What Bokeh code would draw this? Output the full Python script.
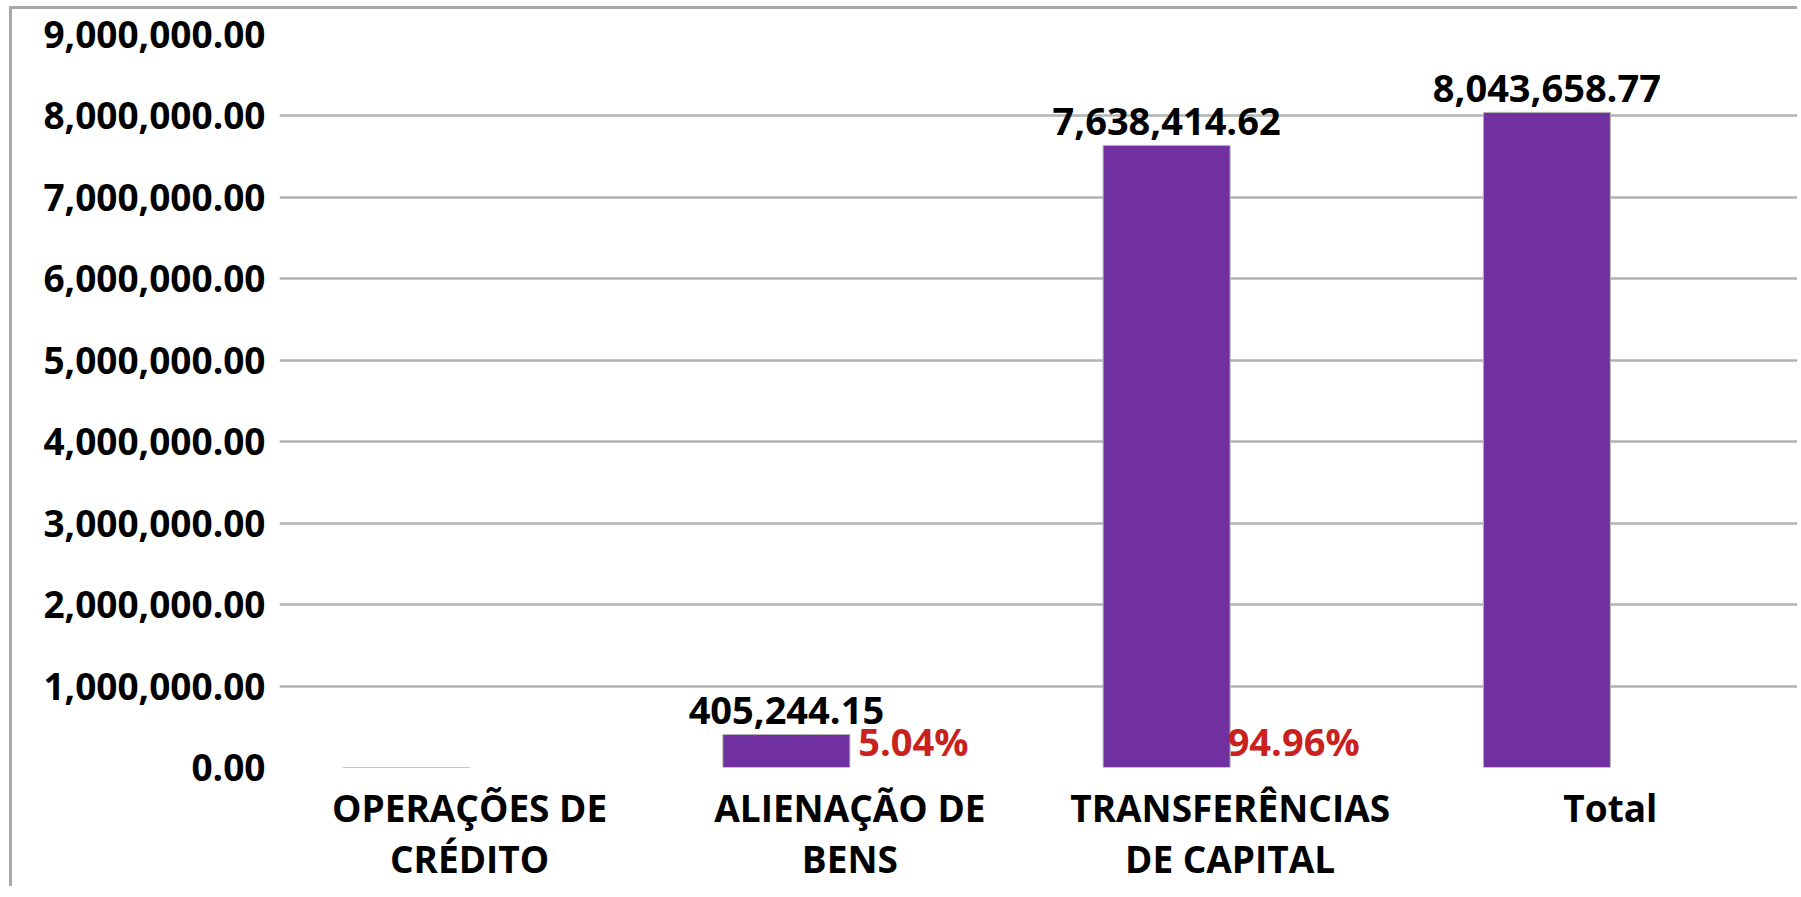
from bokeh.plotting import figure
from bokeh.models import ColumnDataSource, NumeralTickFormatter, FixedTicker, FactorRange, Range1d
from bokeh.transform import dodge
from bokeh.core.properties import value
from bokeh.embed import file_html
from bokeh.resources import INLINE

# ---- data ----
categories = ["OPERAÇÕES DE\nCRÉDITO", "ALIENAÇÃO DE\nBENS", "TRANSFERÊNCIAS\nDE CAPITAL", "Total"]
amounts = [0.0, 405244.15, 7638414.62, 8043658.77]
amount_labels = ["", "405,244.15", "7,638,414.62", "8,043,658.77"]
percent_labels = ["", "5.04%", "94.96%", ""]
y_ticks = [0, 1000000, 2000000, 3000000, 4000000, 5000000, 6000000, 7000000, 8000000, 9000000]

FONT = "Open Sans"
BAR = "#7030a0"
RED = "#c9211e"
GRID = "#b3b3b3"

bars = ColumnDataSource(dict(cat=categories, val=amounts))
vl_idx = [i for i, t in enumerate(amount_labels) if t]
vlab = ColumnDataSource(dict(cat=[categories[i] for i in vl_idx],
                             val=[amounts[i] for i in vl_idx],
                             txt=[amount_labels[i] for i in vl_idx]))
pl_idx = [i for i, t in enumerate(percent_labels) if t]
plab = ColumnDataSource(dict(cat=[categories[i] for i in pl_idx],
                             val=[0.0 for i in pl_idx],
                             txt=[percent_labels[i] for i in pl_idx]))

p = figure(x_range=FactorRange(*categories, range_padding=0),
           y_range=Range1d(0, 9000000),
           width=1788, height=880, output_backend="svg", toolbar_location=None,
           min_border_left=267, min_border_right=0, min_border_top=25, min_border_bottom=122)
p.styles = {"margin-left": "9px", "margin-top": "6px",
            "border-left": "3px solid #a8a8a8", "border-top": "3px solid #a8a8a8"}
p.outline_line_color = None
p.background_fill_color = "white"
p.border_fill_color = "white"

p.vbar(x=dodge("cat", -0.167, range=p.x_range), top="val", width=0.334, source=bars,
       fill_color=BAR, line_color=GRID, line_width=1)

p.text(x=dodge("cat", -0.167, range=p.x_range), y="val", text="txt", source=vlab,
       text_font=value(FONT), text_font_style="bold", text_font_size="38px",
       text_color="black", text_align="center", text_baseline="bottom", y_offset=-10)
p.text(x=dodge("cat", 0.167, range=p.x_range), y="val", text="txt", source=plab,
       text_font=value(FONT), text_font_style="bold", text_font_size="38px",
       text_color=RED, text_align="center", text_baseline="bottom", y_offset=-1)

p.xgrid.grid_line_color = None
p.ygrid.grid_line_color = GRID
p.ygrid.grid_line_width = 2.5

p.yaxis.ticker = FixedTicker(ticks=y_ticks)
p.yaxis.formatter = NumeralTickFormatter(format="0,0.00")
for ax in (p.xaxis[0], p.yaxis[0]):
    ax.axis_line_color = None
    ax.major_tick_line_color = None
    ax.minor_tick_line_color = None
    ax.major_tick_out = 0
    ax.major_tick_in = 0
    ax.major_label_text_font = FONT
    ax.major_label_text_font_style = "bold"
    ax.major_label_text_font_size = "37px"
    ax.major_label_text_color = "black"
p.yaxis.major_label_standoff = 14
p.xaxis.major_label_standoff = 14
p.xaxis.major_label_text_line_height = 1.0

open("out.html", "w").write(file_html(p, INLINE))
